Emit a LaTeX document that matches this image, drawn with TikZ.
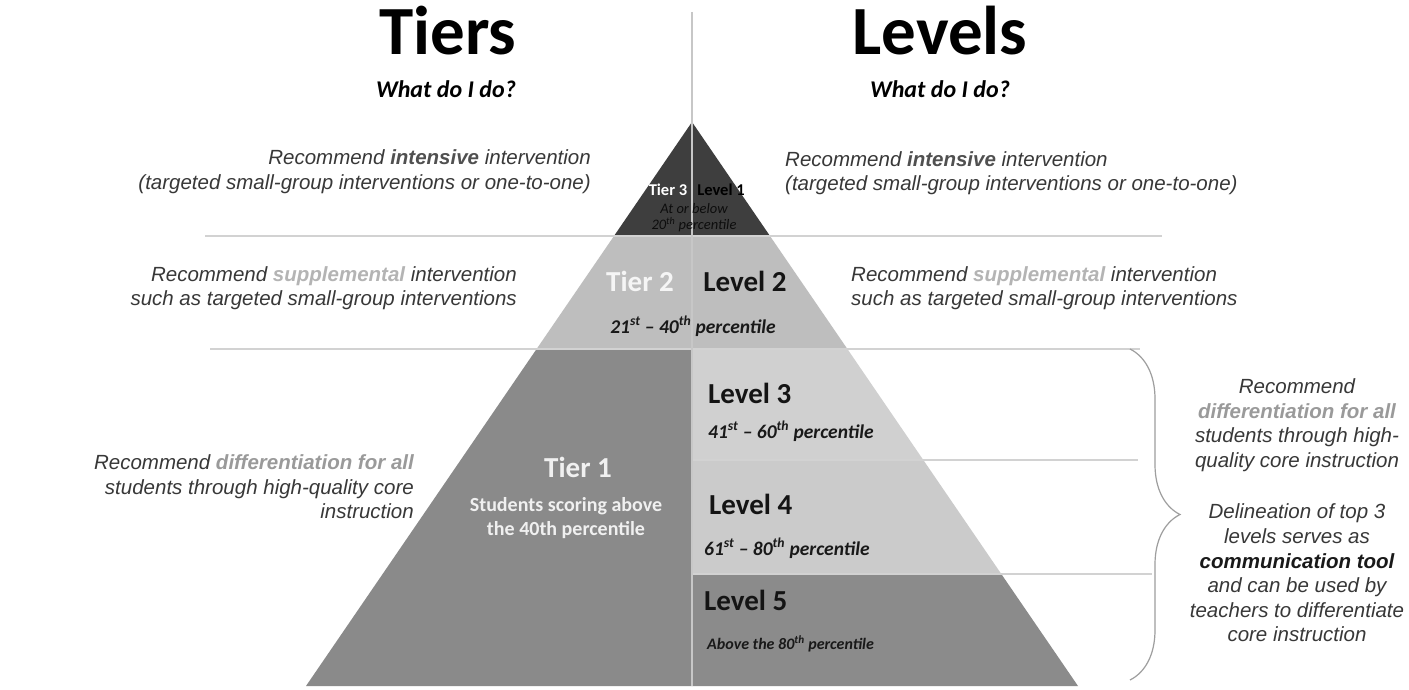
\documentclass[tikz,border=0pt]{standalone}
\usepackage{fontspec}
\setmainfont{Liberation Sans}
\newfontfamily\calfont{Carlito}
\usetikzlibrary{decorations.pathreplacing,calc}
\definecolor{tthree}{HTML}{3E3E3E}
\definecolor{ttwo}{HTML}{BEBEBE}
\definecolor{tone}{HTML}{8A8A8A}
\definecolor{lthree}{HTML}{D0D0D0}
\definecolor{lfour}{HTML}{CBCBCB}
\definecolor{lfive}{HTML}{8B8B8B}
\definecolor{rule}{HTML}{D2D2D2}
\definecolor{txt}{HTML}{383838}
\definecolor{supcol}{HTML}{B4B4B4}
\definecolor{difcol}{HTML}{9A9A9A}
\definecolor{intcol}{HTML}{505050}
\newcommand{\intens}{\textcolor{intcol}{\bfseries intensive}}
\newcommand{\suppl}{\textcolor{supcol}{\bfseries supplemental}}
\newcommand{\difall}{\textcolor{difcol}{\bfseries differentiation for all}}
\begin{document}
\begin{tikzpicture}[x=1pt,y=-1pt,
  side/.style={font=\fontsize{20.5}{24.6}\selectfont\itshape, text=txt, inner sep=0pt},
  title/.style={font=\calfont\bfseries\fontsize{69}{70}\selectfont, inner sep=0pt, anchor=base},
  question/.style={font=\calfont\bfseries\itshape\fontsize{24}{26}\selectfont, inner sep=0pt, anchor=base},
  big/.style={font=\calfont\bfseries\fontsize{29}{32}\selectfont, inner sep=0pt},
  pct/.style={font=\calfont\bfseries\itshape\fontsize{19.5}{22}\selectfont, inner sep=0pt, text=black!90},
  small/.style={font=\calfont\bfseries\fontsize{16.5}{18}\selectfont, inner sep=0pt},
  tiny/.style={font=\calfont\itshape\fontsize{14.5}{16}\selectfont, inner sep=0pt, text=black!95},
  sep/.style={draw=rule, line width=1.5pt},
]
\useasboundingbox (0,0) rectangle (1409,690);
\fill[white] (0,0) rectangle (1409,690);

% key points of the pyramid
\coordinate (apex) at (692,122);
\coordinate (a3l) at (614,236);  \coordinate (a3r) at (770,236);
\coordinate (a2l) at (536.6,349); \coordinate (a2r) at (847.4,349);
\coordinate (a4r) at (923.3,460);
\coordinate (a5r) at (1001.3,574);
\coordinate (bl) at (306,686);   \coordinate (br) at (1078,686);
\coordinate (mid2) at (692,349); \coordinate (mid4) at (692,460);
\coordinate (mid5) at (692,574); \coordinate (midb) at (692,686);

% bands
\fill[tthree] (apex) -- (a3r) -- (a3l) -- cycle;
\fill[ttwo] (a3l) -- (a3r) -- (a2r) -- (a2l) -- cycle;
\fill[tone] (a2l) -- (mid2) -- (midb) -- (bl) -- cycle;
\fill[lthree] (mid2) -- (a2r) -- (a4r) -- (mid4) -- cycle;
\fill[lfour] (mid4) -- (a4r) -- (a5r) -- (mid5) -- cycle;
\fill[lfive] (mid5) -- (a5r) -- (br) -- (midb) -- cycle;

% separator rules
\draw[sep] (205,236) -- (1162,236);
\draw[sep] (210,349) -- (1140,349);
\draw[sep] (mid4) -- (1138,460);
\draw[sep] (mid5) -- (1152,574);
\draw[draw=black!22, line width=1.5pt] (692,12) -- (midb);

% brace
\draw[draw=black!38, line width=1.2pt, decorate, decoration={brace, amplitude=50pt}] (1130,349) -- (1130,680);

% titles
\node[title] (tiers) at (448,55) {Tiers};
\node[title] (levels) at (940,55) {Levels};
\node[question] (qleft) at (446,98) {What do I do?};
\node[question] (qright) at (940,98) {What do I do?};

% side texts
\node[side, anchor=east, align=right] (lint) at (591,172) {Recommend \intens{} intervention\\(targeted small-group interventions or one-to-one)};
\node[side, anchor=west, align=left] (rint) at (785,173) {Recommend \intens{} intervention\\(targeted small-group interventions or one-to-one)};
\node[side, anchor=east, align=right] (lsup) at (517,288) {Recommend \suppl{} intervention\\such as targeted small-group interventions};
\node[side, anchor=west, align=left] (rsup) at (851,288) {Recommend \suppl{} intervention\\such as targeted small-group interventions};
\node[side, anchor=east, align=right] (ldif) at (414,487) {Recommend \difall\\students through high-quality core\\instruction};
\node[side, anchor=center, align=center] (rdif) at (1297,425) {Recommend\\\difall\\students through high-\\quality core instruction};
\node[side, anchor=center, align=center] (rdel) at (1297,573) {Delineation of top 3\\levels serves as\\\textcolor{black!90}{\bfseries communication tool}\\and can be used by\\teachers to differentiate\\core instruction};

% pyramid labels
\node[small, text=white] (t3) at (668,190) {Tier 3};
\node[small, text=black] (l1) at (721,190) {Level 1};
\node[tiny] (l1a) at (694,209) {At or below};
\node[tiny] (l1b) at (694,225) {20\textsuperscript{th} percentile};

\node[big, text=white!96!black] (t2) at (640,281) {Tier 2};
\node[big, text=black!92] (l2) at (745,281) {Level 2};
\node[pct] (l2p) at (693,326) {21\textsuperscript{st} – 40\textsuperscript{th} percentile};

\node[big, text=white!94!black] (t1) at (578,467) {Tier 1};
\node[font=\calfont\bfseries\fontsize{20}{23.5}\selectfont, text=white!94!black, align=center, inner sep=0pt] (t1s) at (566,518) {Students scoring above\\the 40th percentile};

\node[big, text=black!92, anchor=west] (l3) at (708,393) {Level 3};
\node[pct, anchor=west] (l3p) at (708,431) {41\textsuperscript{st} – 60\textsuperscript{th} percentile};
\node[big, text=black!92, anchor=west] (l4) at (709,504) {Level 4};
\node[pct, anchor=west] (l4p) at (704,548) {61\textsuperscript{st} – 80\textsuperscript{th} percentile};
\node[big, text=black!92, anchor=west] (l5) at (704,600) {Level 5};
\node[pct, anchor=west, font=\calfont\bfseries\itshape\fontsize{16}{18}\selectfont] (l5p) at (707,644) {Above the 80\textsuperscript{th} percentile};
\end{tikzpicture}
\end{document}
